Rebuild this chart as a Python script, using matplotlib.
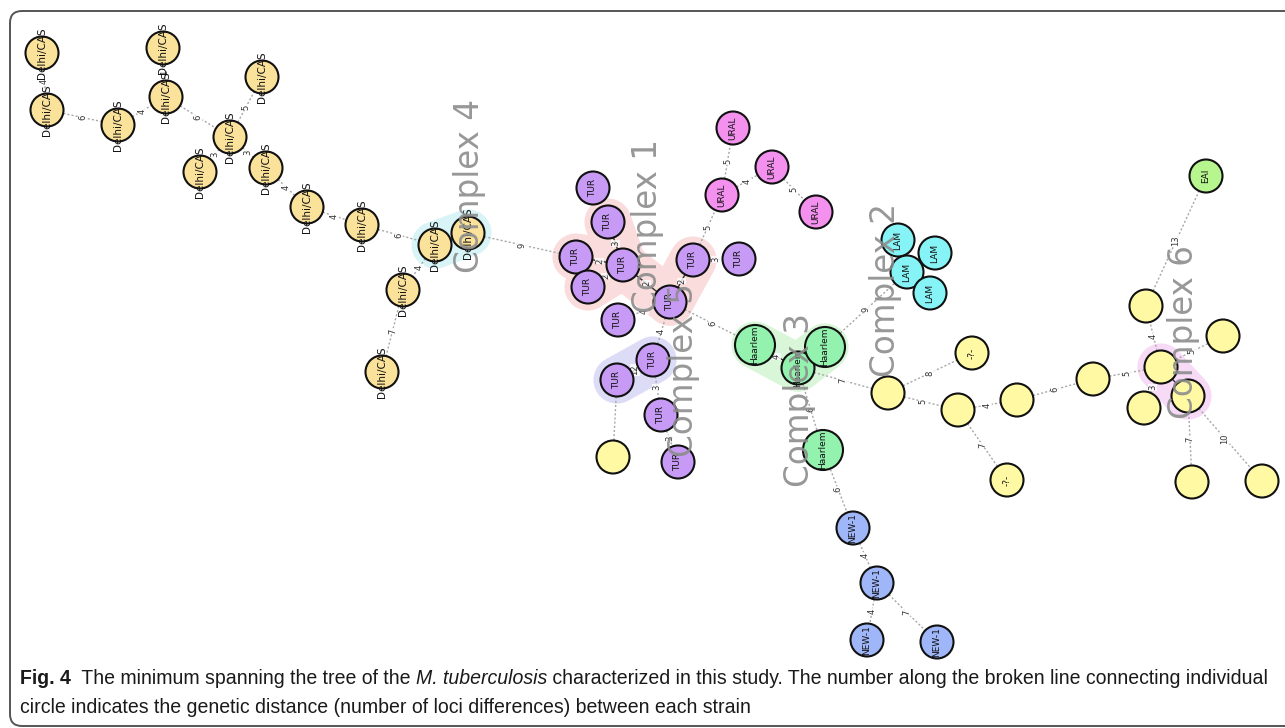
import numpy as np
import matplotlib
matplotlib.use("Agg")
import matplotlib.pyplot as plt
from matplotlib.patches import Circle, FancyBboxPatch

# nodes: id, lineage label, x, y (picture coordinates of the tree layout)
node_ids = ["D1", "D2", "D3", "D4", "D5", "D6", "D7", "D8", "D9", "D10", "D11", "D12", "D13", "D14", "D15",
            "T1", "T2", "T3", "T4", "T5", "T6", "T7", "T8", "T9", "T10", "T11", "T12", "T13",
            "U1", "U2", "U3", "U4",
            "L1", "L2", "L3", "L4",
            "H1", "H2", "H3", "H4",
            "N1", "N2", "N3", "N4",
            "Y0", "Y1", "Q1", "Y2", "Y3", "Q2", "Y4", "C1", "C2", "Y5", "Y6", "Y7", "Y8", "Y9", "E1"]
node_x = [42, 47, 163, 166, 118, 262, 230, 200, 266, 307, 362, 435, 468, 403, 382,
          593, 608, 576, 623, 588, 693, 739, 670, 618, 653, 617, 661, 678,
          722, 772, 733, 816,
          898, 935, 907, 930,
          755, 798, 825, 823,
          853, 877, 867, 937,
          613, 888, 972, 958, 1017, 1007, 1093, 1161, 1188, 1146, 1223, 1144, 1192, 1262, 1206]
node_y = [53, 110, 48, 97, 125, 77, 137, 172, 168, 207, 225, 245, 233, 290, 372,
          188, 222, 257, 265, 287, 260, 259, 302, 320, 360, 380, 415, 462,
          195, 167, 128, 212,
          240, 253, 272, 293,
          345, 368, 347, 450,
          528, 583, 640, 642,
          457, 393, 353, 410, 400, 480, 379, 367, 396, 306, 336, 408, 482, 481, 176]
lineage = (["Delhi/CAS"] * 15 + ["TUR"] * 13 + ["URAL"] * 4 + ["LAM"] * 4 + ["Haarlem"] * 4
           + ["NEW-1"] * 4 + [""] * 2 + ["-?-"] + [""] * 2 + ["-?-"] + [""] * 8 + ["EAI"])
big_nodes = ["H1", "H3", "H4"]

# edges: (from, to, distance, same complex)
edges = [("D1", "D2", "4", False), ("D2", "D5", "6", False), ("D5", "D4", "4", False),
         ("D3", "D4", "1", False), ("D4", "D7", "6", False), ("D7", "D6", "5", False),
         ("D7", "D8", "3", False), ("D7", "D9", "3", False), ("D9", "D10", "4", False),
         ("D10", "D11", "4", False), ("D11", "D12", "6", False), ("D12", "D13", "", True),
         ("D12", "D14", "4", False), ("D14", "D15", "7", False), ("D13", "T3", "9", False),
         ("T3", "T4", "2", True), ("T2", "T4", "3", True), ("T5", "T4", "2", True),
         ("T4", "T8", "2", True), ("T8", "T6", "2", True), ("T6", "T7", "3", False),
         ("T6", "U1", "5", False), ("T8", "T9", "4", False), ("T8", "T10", "4", False),
         ("T10", "T11", "12", True), ("T10", "T12", "3", False), ("T12", "T13", "3", False),
         ("T11", "Y0", "", False), ("T8", "H1", "6", False),
         ("U1", "U2", "4", False), ("U1", "U3", "5", False), ("U2", "U4", "5", False),
         ("H1", "H2", "4", True), ("H2", "H3", "", True), ("H3", "L3", "9", False),
         ("H2", "Y1", "7", False), ("H2", "H4", "6", False), ("H4", "N1", "6", False),
         ("N1", "N2", "4", False), ("N2", "N3", "4", False), ("N2", "N4", "7", False),
         ("Y1", "Q1", "8", False), ("Y1", "Y2", "5", False), ("Y2", "Y3", "4", False),
         ("Y2", "Q2", "7", False), ("Y3", "Y4", "6", False), ("Y4", "C1", "5", False),
         ("C1", "Y5", "4", False), ("C1", "Y6", "5", False), ("C1", "Y7", "3", False),
         ("C1", "C2", "", True), ("C2", "Y8", "7", False), ("C2", "Y9", "10", False),
         ("Y5", "E1", "13", False)]

# complexes: name, members of the shaded area, label position
complex_names = ["Complex 4", "Complex 1", "Complex 5", "Complex 2", "Complex 3", "Complex 6"]
complex_members = [["D12", "D13"], ["T3", "T4", "T5", "T2", "T8", "T6"], ["T10", "T11"],
                   ["L1", "L2", "L3", "L4"], ["H1", "H2", "H3"], ["C1", "C2"]]
complex_shade = ["#d8f4f6", "#fbdcdc", "#dcdcf6", "#fcf6dc", "#d9f6d9", "#f6daf6"]
complex_lx = [470, 648, 683, 886, 800, 1183]
complex_ly = [186, 226, 370, 290, 400, 332]

fill_colors = {"Delhi/CAS": "#fbe29a", "TUR": "#c79af6", "URAL": "#f490ee", "LAM": "#86f4f6",
               "Haarlem": "#93f2ad", "NEW-1": "#9fb6f8", "": "#fff9a3", "-?-": "#fff9a3",
               "EAI": "#b7f58e"}

pos = {n: (x, y) for n, x, y in zip(node_ids, node_x, node_y)}

fig = plt.figure(figsize=(12.85, 7.28), dpi=100)
ax = fig.add_axes([0, 0, 1, 1])
ax.set_xlim(0, 1285)
ax.set_ylim(728, 0)
ax.set_aspect("equal")
ax.axis("off")

# frame
ax.add_patch(FancyBboxPatch((10, 11), 1320, 715, boxstyle="round,pad=0,rounding_size=12",
                            fc="none", ec="#555555", lw=1.4, zorder=0))

# shaded complex areas
for members, col in zip(complex_members, complex_shade):
    for a, b, _, _ in edges:
        if a in members and b in members:
            ax.plot([pos[a][0], pos[b][0]], [pos[a][1], pos[b][1]], color=col, lw=34,
                    solid_capstyle="round", zorder=1)

# edges with distance labels
for a, b, lab, inner in edges:
    (x0, y0), (x1, y1) = pos[a], pos[b]
    if inner:
        ax.plot([x0, x1], [y0, y1], color="#333333", lw=1.0, zorder=2)
    else:
        ax.plot([x0, x1], [y0, y1], color="#a8a8a8", lw=1.0, ls=(0, (1.5, 1.5)), zorder=2)
    if lab:
        ax.text((x0 + x1) / 2, (y0 + y1) / 2, lab, fontsize=6, rotation=90, color="#333333",
                ha="center", va="center", zorder=3,
                bbox=dict(fc="white", ec="none", pad=0.3, alpha=0.8))

# nodes
for n, lin in zip(node_ids, lineage):
    r = 20 if n in big_nodes else 16.5
    ax.add_patch(Circle(pos[n], r, fc=fill_colors[lin], ec="#111111", lw=1.5, zorder=4))
    if lin:
        ax.text(pos[n][0], pos[n][1], lin, fontsize=6.5 if lin != "Delhi/CAS" else 7.5,
                rotation=90, ha="center", va="center", color="#111111", zorder=5)

# complex names
for name, lx, ly in zip(complex_names, complex_lx, complex_ly):
    ax.text(lx, ly, name, fontsize=23.5, rotation=90, ha="center", va="center",
            color="#8c8c8c", alpha=0.9, zorder=6)

# caption
cap_font = ["Liberation Sans", "DejaVu Sans"]
cap_size = 14.05
t = ax.text(20, 684, "Fig. 4", fontsize=cap_size, fontweight="bold", family=cap_font, color="#1a1a1a")
pieces = [("  The minimum spanning the tree of the ", "normal"),
          ("M. tuberculosis", "italic"),
          (" characterized in this study. The number along the broken line connecting individual", "normal")]
for txt, style in pieces:
    t = ax.annotate(txt, xy=(1, 0), xycoords=t, fontsize=cap_size, fontstyle=style,
                    family=cap_font, color="#1a1a1a", va="bottom")
ax.text(20, 713, "circle indicates the genetic distance (number of loci differences) between each strain",
        fontsize=cap_size, family=cap_font, color="#1a1a1a")

fig.savefig("out.png", dpi=100)
